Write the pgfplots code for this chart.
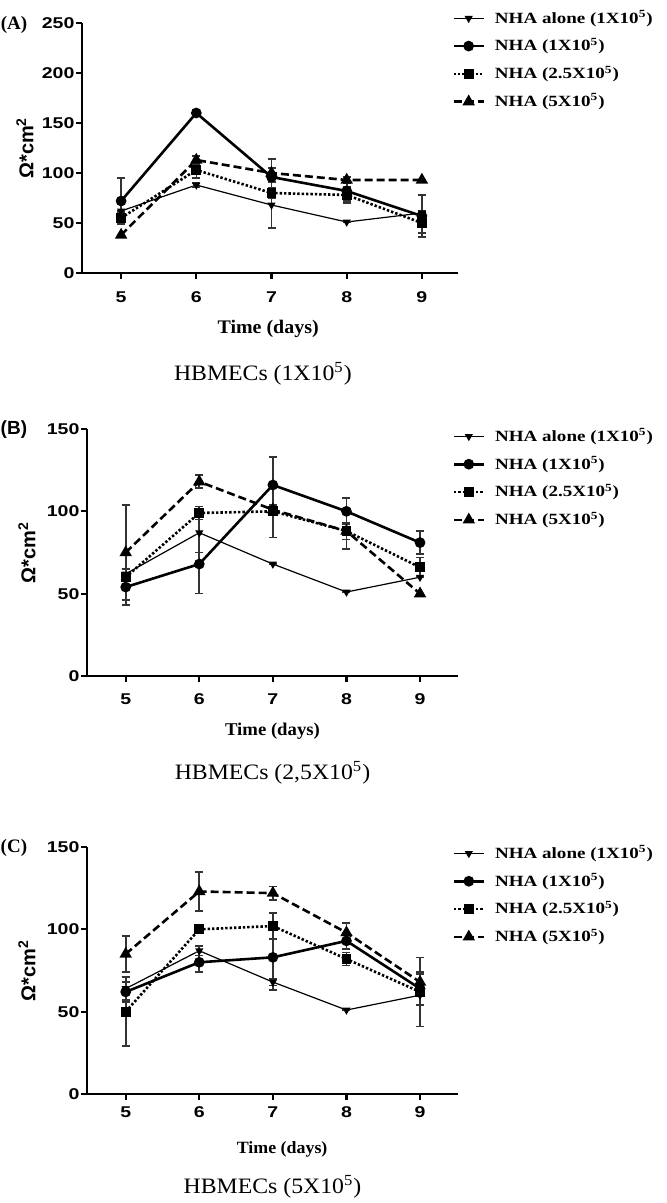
\documentclass[border=0pt]{standalone}
\usepackage{fontspec}
\usepackage{pgfplots}
\pgfplotsset{compat=1.18}
\setmainfont{Liberation Serif}
\newfontfamily\tickfam[FakeStretch=1.25]{Liberation Sans}
\newfontfamily\labfam{Liberation Sans}
\newfontfamily\legfam[FakeStretch=1.22]{Liberation Serif}
\newfontfamily\xlabfam[FakeStretch=1.04]{Liberation Serif}
\newfontfamily\subfam[FakeStretch=1.08]{Liberation Serif}
\newcommand\tickfont{\tickfam\bfseries\fontsize{7.8}{9}\selectfont}
\newcommand\ylabfont{\labfam\bfseries\fontsize{10}{12}\selectfont}
\newcommand\legfont{\legfam\bfseries\fontsize{7.8}{9}\selectfont}
\newcommand\subfont{\subfam\fontsize{11}{13}\selectfont}
\newcommand\panfont{\bfseries\fontsize{9.5}{11}\selectfont}
\pgfplotsset{
  panel/.style={
    scale only axis,
    axis lines=left,
    axis line style={-, line width=1.3pt},
    tick align=outside,
    major tick length=3pt,
    every tick/.style={line width=1.1pt, black},
    xtick={5,6,7,8,9},
    ymin=0,
    tick label style={font=\tickfont},
    yticklabel style={inner xsep=0.6pt},
    /pgf/number format/assume math mode=true,
    ylabel={Ω*cm\textsuperscript{2}},
    ylabel style={font=\ylabfont, anchor=center},
    xlabel={Time (days)},
    xlabel style={anchor=center},
    legend style={draw=none, fill=none, font=\legfont, anchor=north west,
      cells={anchor=west}, row sep=2pt,
      /tikz/every odd column/.append style={column sep=3pt}},
    legend image code/.code={\draw[mark repeat=2,mark phase=2] plot coordinates {(0pt,0pt) (7.5pt,0pt) (15pt,0pt)};},
    clip=false,
  },
  sAlone/.style={black, line width=0.6pt, mark=triangle*, mark size=1.8pt, mark options={rotate=180, solid}},
  sOne/.style={black, line width=1.3pt, mark=*, mark size=2pt, mark options={solid}},
  sTwo/.style={black, line width=1.3pt, dash pattern=on 1.2pt off 1pt, mark=square*, mark size=1.8pt, mark options={solid}},
  sFive/.style={black, line width=1.3pt, dash pattern=on 4pt off 2pt, mark=triangle*, mark size=2.3pt, mark options={solid}},
  ebars/.style={error bars/.cd, y dir=both, y explicit,
    error bar style={line width=0.8pt, solid, black!80},
    error mark options={rotate=90, mark size=2pt, line width=0.8pt, black!80, solid}},
}
\begin{document}
\begin{tikzpicture}
\path[use as bounding box] (0,0) rectangle (333pt,-601.5pt);
% ---------------- Panel A ----------------
\begin{axis}[panel, at={(41pt,-136.5pt)}, anchor=south west,
  width=188pt, height=125pt, xmin=4.48, xmax=9.48, ymax=250,
  ytick={0,50,100,150,200,250},
  xticklabel style={yshift=-3pt},
  ylabel style={at={(axis description cs:-0.152,0.5)}},
  xlabel style={at={(axis description cs:0.495,-0.224)}, font=\xlabfam\bfseries\fontsize{9.6}{11}\selectfont},
  legend style={at={(axis description cs:0.968,1.084)}}]
\addplot+[sAlone, ebars] table[x=x,y=y,y error=e] {
x y e
5 62 0
6 88 2
7 68 23
8 51 0
9 60 2
};
\addlegendentry{NHA alone (1X10\textsuperscript{5})}
\addplot+[sOne, ebars] table[x=x,y=y,y error=e] {
x y e
5 72 23
6 160 3
7 96 18
8 82 10
9 57 21
};
\addlegendentry{NHA (1X10\textsuperscript{5})}
\addplot+[sTwo, ebars] table[x=x,y=y,y error=e] {
x y e
5 55 5
6 103 8
7 80 5
8 78 8
9 50 10
};
\addlegendentry{NHA (2.5X10\textsuperscript{5})}
\addplot+[sFive, ebars] table[x=x,y=y,y error=e] {
x y e
5 38 0
6 113 4
7 100 5
8 93 3
9 93 0
};
\addlegendentry{NHA (5X10\textsuperscript{5})}
\node[font=\panfont] at (axis description cs:-0.181,0.992) {(A)};
\node[font=\subfont] at (axis description cs:0.481,-0.404) {HBMECs (1X10\textsuperscript{5})};
\end{axis}
% ---------------- Panel B ----------------
\begin{axis}[panel, at={(43.5pt,-338pt)}, anchor=south west,
  width=185.5pt, height=123.5pt, xmin=4.474, xmax=9.516, ymax=150,
  ytick={0,50,100,150},
  xticklabel style={yshift=-2.2pt},
  ylabel style={at={(axis description cs:-0.162,0.5)}},
  xlabel style={at={(axis description cs:0.5,-0.223)}, font=\xlabfam\bfseries\fontsize{9}{11}\selectfont},
  legend style={at={(axis description cs:0.968,1.036)}}]
\addplot+[sAlone, ebars] table[x=x,y=y,y error=e] {
x y e
5 62 3
6 87 12
7 68 0
8 51 0
9 60 0
};
\addlegendentry{NHA alone (1X10\textsuperscript{5})}
\addplot+[sOne, ebars] table[x=x,y=y,y error=e] {
x y e
5 54 11
6 68 18
7 116 17
8 100 8
9 81 7
};
\addlegendentry{NHA (1X10\textsuperscript{5})}
\addplot+[sTwo, ebars] table[x=x,y=y,y error=e] {
x y e
5 60 5
6 99 4
7 100 16
8 88 11
9 66 6
};
\addlegendentry{NHA (2.5X10\textsuperscript{5})}
\addplot+[sFive, ebars] table[x=x,y=y,y error=e] {
x y e
5 75 29
6 118 4
7 101 3
8 88 5
9 50 0
};
\addlegendentry{NHA (5X10\textsuperscript{5})}
\node[font=\panfont\labfam] at (axis description cs:-0.197,0.996) {(B)};
\node[font=\subfont] at (axis description cs:0.5,-0.393) {HBMECs (2,5X10\textsuperscript{5})};
\end{axis}
% ---------------- Panel C ----------------
\begin{axis}[panel, at={(43.5pt,-547pt)}, anchor=south west,
  width=185.5pt, height=123.5pt, xmin=4.474, xmax=9.516, ymax=150,
  ytick={0,50,100,150},
  ylabel style={at={(axis description cs:-0.162,0.5)}},
  xlabel style={at={(axis description cs:0.526,-0.223)}, font=\xlabfam\bfseries\fontsize{8.6}{10}\selectfont},
  legend style={at={(axis description cs:0.968,1.04)}}]
\addplot+[sAlone, ebars] table[x=x,y=y,y error=e] {
x y e
5 64 7
6 87 3
7 68 2
8 51 0
9 60 0
};
\addlegendentry{NHA alone (1X10\textsuperscript{5})}
\addplot+[sOne, ebars] table[x=x,y=y,y error=e] {
x y e
5 62 6
6 80 6
7 83 20
8 93 5
9 64 10
};
\addlegendentry{NHA (1X10\textsuperscript{5})}
\addplot+[sTwo, ebars] table[x=x,y=y,y error=e] {
x y e
5 50 21
6 100 2
7 102 8
8 82 4
9 62 21
};
\addlegendentry{NHA (2.5X10\textsuperscript{5})}
\addplot+[sFive, ebars] table[x=x,y=y,y error=e] {
x y e
5 85 11
6 123 12
7 122 4
8 98 6
9 68 5
};
\addlegendentry{NHA (5X10\textsuperscript{5})}
\node[font=\panfont] at (axis description cs:-0.197,0.996) {(C)};
\node[font=\subfont] at (axis description cs:0.5,-0.377) {HBMECs (5X10\textsuperscript{5})};
\end{axis}
\end{tikzpicture}
\end{document}
